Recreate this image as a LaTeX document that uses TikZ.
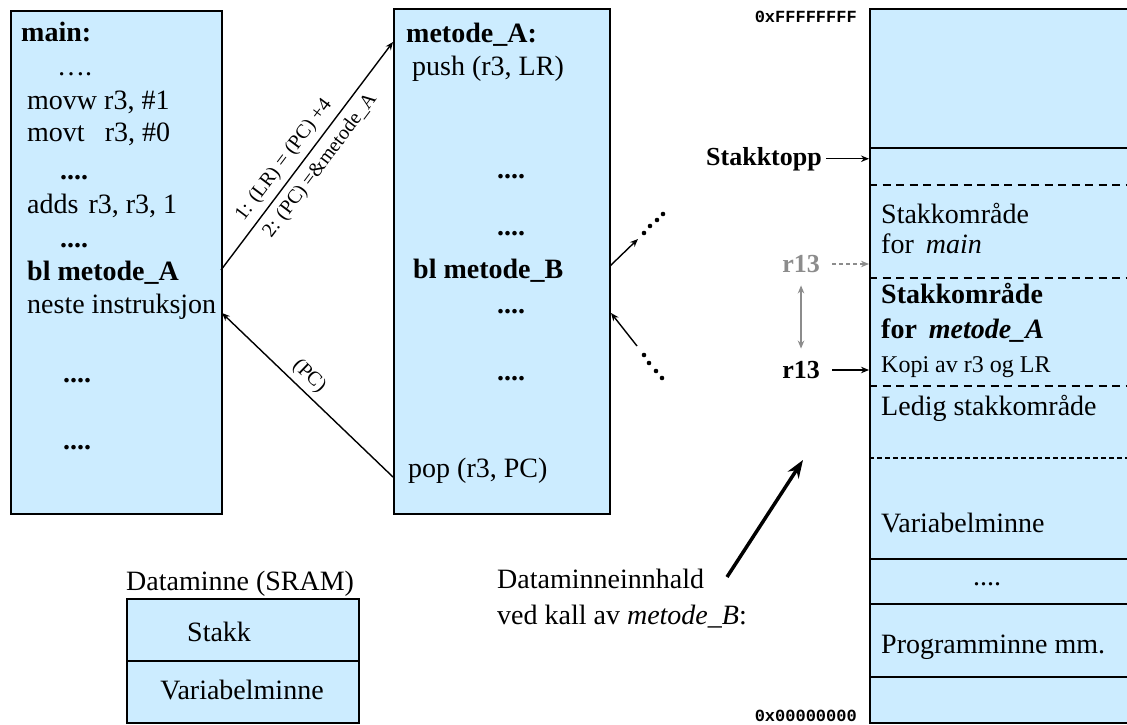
\documentclass[tikz,border=0pt]{standalone}
\usepackage{fontspec}
\setmainfont{Liberation Serif}
\setmonofont{Liberation Mono}
\usetikzlibrary{arrows.meta}
\definecolor{memblue}{RGB}{204,236,255}
\definecolor{oldgray}{RGB}{140,140,140}

\tikzset{
  box/.style={draw=black, line width=1.6pt, fill=memblue, inner sep=0pt, anchor=north west},
  txt/.style={anchor=base west, inner sep=0pt, font=\fontsize{28}{32}\selectfont},
  btxt/.style={anchor=base west, inner sep=0pt, font=\fontsize{28}{32}\selectfont\bfseries},
  ptrtxt/.style={anchor=base east, inner sep=0pt, font=\fontsize{26}{30}\selectfont\bfseries},
  stxt/.style={anchor=base west, inner sep=0pt, font=\fontsize{24}{28}\selectfont},
  addr/.style={anchor=base east, inner sep=0pt, font=\fontsize{17}{19}\ttfamily\bfseries},
  lbl/.style={font=\fontsize{20}{24}\selectfont, inner sep=1pt, sloped},
  sep/.style={line width=1.6pt},
  dsep/.style={line width=1.6pt, dash pattern=on 8pt off 5.5pt},
  fsep/.style={line width=1.1pt, dash pattern=on 5pt off 3pt},
  arr/.style={-{Stealth[length=8pt,width=6.5pt]}, line width=1.4pt},
  garr/.style={-{Stealth[length=8pt,width=6.5pt]}, line width=1.4pt, draw=oldgray},
  bigarr/.style={-{Stealth[length=18pt,width=13pt]}, line width=3.5pt},
  dot/.style={fill=black},
}

\begin{document}
\begin{tikzpicture}[x=1pt,y=-1pt]
\clip (0,0) rectangle (1127,725);

% ---------- program for main ----------
\node[box, minimum width=211pt, minimum height=503pt] (mainbox) at (10,10) {};
\node[btxt] (mainlbl) at (21,42) {main:};
\node[txt]  (m1) at (57,76) {….};
\node[txt]  (m2) at (27,109) {movw r3, \#1};
\node[txt]  (m3) at (27,141) {movt\hspace{20pt}r3, \#0};
\node[btxt] (m4) at (60,179) {....};
\node[txt]  (m5) at (27,213) {adds\hspace{10pt}r3, r3, 1};
\node[btxt] (m6) at (60,247) {....};
\node[btxt] (blA) at (27,280) {bl metode\_A};
\node[txt]  (neste) at (27,313) {neste instruksjon};
\node[btxt] (m7) at (63,382) {....};
\node[btxt] (m8) at (63,449) {....};

% ---------- program for metode_A ----------
\node[box, minimum width=216pt, minimum height=505pt] (abox) at (393,8) {};
\node[btxt] (alabel) at (406,43) {metode\_A:};
\node[txt]  (push) at (412,75) {push (r3, LR)};
\node[btxt] (a1) at (497,178) {....};
\node[btxt] (a2) at (497,235) {....};
\node[btxt] (blB) at (413,278) {bl metode\_B};
\node[btxt] (a3) at (497,313) {....};
\node[btxt] (a4) at (497,380) {....};
\node[txt]  (pop) at (408,477) {pop (r3, PC)};

% call and return
\coordinate (callfrom) at (221,270);
\coordinate (callto) at (393,42);
\draw[arr] (callfrom) --
  node[lbl, above=5pt, pos=0.44] {1: (LR) = (PC) +4}
  node[lbl, below=6pt, pos=0.50] {2: (PC) =\&metode\_A}
  (callto);
\coordinate (retfrom) at (393,477);
\coordinate (retto) at (222,313);
\draw[arr] (retfrom) -- node[lbl, above=4pt, pos=0.55] {(PC)} (retto);

% call onwards to metode_B and back
\coordinate (bout) at (610,266);
\coordinate (boutend) at (638,239);
\draw[arr] (bout) -- (boutend);
\foreach \p in {(644,233),(650,226),(657,220),(663,214)} \fill[dot] \p circle (2.3pt);
\coordinate (bin) at (637,346);
\coordinate (binend) at (611,313);
\draw[arr] (bin) -- (binend);
\foreach \p in {(644,355),(649,363),(656,371),(662,378)} \fill[dot] \p circle (2.3pt);

% ---------- memory map ----------
\node[box, minimum width=280pt, minimum height=714pt] (mem) at (869,8) {};
\draw[sep]  (869,148) -- (1150,148);
\draw[dsep] (869,185) -- (1150,185);
\draw[dsep] (869,278) -- (1150,278);
\draw[dsep] (869,386) -- (1150,386);
\draw[fsep] (869,458) -- (1150,458);
\draw[sep]  (869,559) -- (1150,559);
\draw[sep]  (869,604) -- (1150,604);
\draw[sep]  (869,677) -- (1150,677);

\node[txt]  (s1) at (881,223) {Stakkområde};
\node[txt]  (s2) at (881,253) {for\hspace{12pt}\textit{main}};
\node[btxt] (s3) at (881,303) {Stakkområde};
\node[btxt] (s4) at (881,338) {for\hspace{12pt}\textit{metode\_A}};
\node[stxt] (s5) at (881,372) {Kopi av r3 og LR};
\node[txt]  (s6) at (881,415) {Ledig stakkområde};
\node[txt]  (s7) at (881,532) {Variabelminne};
\node[txt, anchor=base] (s8) at (987,585) {....};
\node[txt]  (s9) at (881,653) {Programminne mm.};

\node[addr] (top) at (857,23) {0xFFFFFFFF};
\node[addr] (bottom) at (857,721) {0x00000000};

\node[ptrtxt] (stk) at (822,165) {Stakktopp};
\draw[arr] ([xshift=4pt]stk.east) -- (stk.east -| mem.west);

\node[ptrtxt, text=oldgray] (r13old) at (820,272) {r13};
\draw[garr, dash pattern=on 4pt off 3pt] (832,264) coordinate (go) -- (go -| mem.west);
\node[ptrtxt] (r13new) at (820,378) {r13};
\draw[arr] (832,370) coordinate (gn) -- (gn -| mem.west);
\draw[garr, {Stealth[length=8pt,width=6.5pt]}-{Stealth[length=8pt,width=6.5pt]}]
  ([yshift=-13pt]r13old.south) -- ([yshift=12pt]r13new.north);

% ---------- caption for the memory map ----------
\node[txt] (dm1) at (497,588) {Dataminneinnhald};
\node[txt] (dm2) at (497,624) {ved kall av \textit{metode\_B}:};
\coordinate (dmtail) at (727,577);
\coordinate (dmtip) at (803,460);
\draw[bigarr] (dmtail) -- (dmtip);

% ---------- data memory overview ----------
\node[txt] (sram) at (126,590) {Dataminne (SRAM)};
\node[box, minimum width=232pt, minimum height=62pt] (stakkbox) at (126,598) {};
\node[box, minimum width=232pt, minimum height=62pt] (varbox) at (126,660) {};
\node[txt] (stakk) at (187,641) {Stakk};
\node[txt, anchor=base] (varmem) at (242,699) {Variabelminne};
\end{tikzpicture}
\end{document}
